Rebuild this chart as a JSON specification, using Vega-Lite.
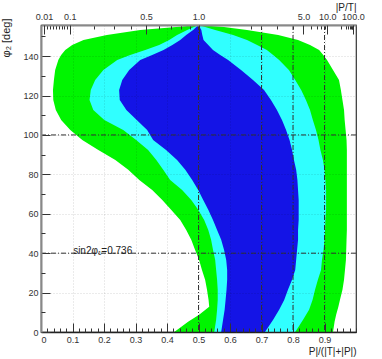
{
  "$schema": "https://vega.github.io/schema/vega-lite/v6.json",
  "width": 315,
  "height": 307,
  "autosize": {"type": "none"},
  "padding": {"left": 41, "top": 25, "right": 26, "bottom": 27},
  "background": "white",
  "config": {
    "view": {"stroke": "#333", "strokeWidth": 1.2},
    "font": "Liberation Sans",
    "axis": {"labelFont": "Liberation Sans", "titleFont": "Liberation Sans", "labelColor": "#333", "titleColor": "#222", "titleFontWeight": "normal", "tickColor": "#333"}
  },
  "datasets": {
    "green": [
      {"y": 155.8, "a": 0.5, "b": 0.5},
      {"y": 154.8, "a": 0.429, "b": 0.581},
      {"y": 153.3, "a": 0.315, "b": 0.654},
      {"y": 150.7, "a": 0.209, "b": 0.753},
      {"y": 148.2, "a": 0.135, "b": 0.816},
      {"y": 145.6, "a": 0.099, "b": 0.854},
      {"y": 143.1, "a": 0.077, "b": 0.883},
      {"y": 140.6, "a": 0.064, "b": 0.896},
      {"y": 138, "a": 0.055, "b": 0.908},
      {"y": 133, "a": 0.045, "b": 0.927},
      {"y": 127.9, "a": 0.041, "b": 0.946},
      {"y": 122.8, "a": 0.038, "b": 0.952},
      {"y": 117.8, "a": 0.039, "b": 0.957},
      {"y": 112.7, "a": 0.047, "b": 0.962},
      {"y": 107.6, "a": 0.064, "b": 0.964},
      {"y": 102.5, "a": 0.093, "b": 0.967},
      {"y": 97.5, "a": 0.131, "b": 0.970},
      {"y": 92.4, "a": 0.182, "b": 0.971},
      {"y": 87.3, "a": 0.236, "b": 0.971},
      {"y": 82.3, "a": 0.277, "b": 0.971},
      {"y": 77.2, "a": 0.312, "b": 0.971},
      {"y": 72.1, "a": 0.353, "b": 0.971},
      {"y": 67, "a": 0.385, "b": 0.971},
      {"y": 62, "a": 0.413, "b": 0.971},
      {"y": 56.9, "a": 0.442, "b": 0.971},
      {"y": 51.8, "a": 0.461, "b": 0.971},
      {"y": 46.8, "a": 0.477, "b": 0.970},
      {"y": 41.7, "a": 0.489, "b": 0.969},
      {"y": 36.6, "a": 0.502, "b": 0.968},
      {"y": 31.5, "a": 0.511, "b": 0.965},
      {"y": 26.5, "a": 0.521, "b": 0.962},
      {"y": 21.4, "a": 0.527, "b": 0.957},
      {"y": 16.3, "a": 0.532, "b": 0.949},
      {"y": 12.8, "a": 0.534, "b": 0.944},
      {"y": 8.7, "a": 0.502, "b": 0.937},
      {"y": 5.2, "a": 0.467, "b": 0.932},
      {"y": 0, "a": 0.423, "b": 0.927}
    ],
    "cyan": [
      {"y": 155.8, "a": 0.5, "b": 0.5},
      {"y": 153.3, "a": 0.464, "b": 0.553},
      {"y": 150.7, "a": 0.432, "b": 0.610},
      {"y": 148.2, "a": 0.407, "b": 0.654},
      {"y": 145.6, "a": 0.375, "b": 0.686},
      {"y": 143.1, "a": 0.331, "b": 0.717},
      {"y": 140.6, "a": 0.283, "b": 0.737},
      {"y": 138, "a": 0.242, "b": 0.756},
      {"y": 133, "a": 0.198, "b": 0.787},
      {"y": 127.9, "a": 0.172, "b": 0.807},
      {"y": 122.8, "a": 0.158, "b": 0.826},
      {"y": 117.8, "a": 0.154, "b": 0.841},
      {"y": 112.7, "a": 0.166, "b": 0.854},
      {"y": 107.6, "a": 0.201, "b": 0.863},
      {"y": 102.5, "a": 0.261, "b": 0.873},
      {"y": 97.5, "a": 0.302, "b": 0.881},
      {"y": 92.4, "a": 0.340, "b": 0.887},
      {"y": 87.3, "a": 0.366, "b": 0.895},
      {"y": 82.3, "a": 0.388, "b": 0.900},
      {"y": 77.2, "a": 0.410, "b": 0.903},
      {"y": 72.1, "a": 0.448, "b": 0.905},
      {"y": 67, "a": 0.477, "b": 0.905},
      {"y": 62, "a": 0.499, "b": 0.905},
      {"y": 56.9, "a": 0.518, "b": 0.903},
      {"y": 51.8, "a": 0.531, "b": 0.902},
      {"y": 46.8, "a": 0.540, "b": 0.900},
      {"y": 41.7, "a": 0.546, "b": 0.897},
      {"y": 36.6, "a": 0.553, "b": 0.892},
      {"y": 31.5, "a": 0.556, "b": 0.889},
      {"y": 26.5, "a": 0.559, "b": 0.879},
      {"y": 21.4, "a": 0.561, "b": 0.870},
      {"y": 16.3, "a": 0.561, "b": 0.862},
      {"y": 11.3, "a": 0.559, "b": 0.851},
      {"y": 6.2, "a": 0.556, "b": 0.832},
      {"y": 0, "a": 0.550, "b": 0.807}
    ],
    "blue": [
      {"y": 155.8, "a": 0.5, "b": 0.5},
      {"y": 153.3, "a": 0.483, "b": 0.509},
      {"y": 150.7, "a": 0.461, "b": 0.512},
      {"y": 148.2, "a": 0.442, "b": 0.516},
      {"y": 145.6, "a": 0.417, "b": 0.531},
      {"y": 143.1, "a": 0.389, "b": 0.546},
      {"y": 140.6, "a": 0.353, "b": 0.569},
      {"y": 138, "a": 0.315, "b": 0.594},
      {"y": 133, "a": 0.280, "b": 0.635},
      {"y": 127.9, "a": 0.258, "b": 0.673},
      {"y": 122.8, "a": 0.248, "b": 0.708},
      {"y": 117.8, "a": 0.250, "b": 0.730},
      {"y": 112.7, "a": 0.271, "b": 0.749},
      {"y": 107.6, "a": 0.304, "b": 0.765},
      {"y": 102.5, "a": 0.337, "b": 0.778},
      {"y": 97.5, "a": 0.356, "b": 0.789},
      {"y": 92.4, "a": 0.397, "b": 0.797},
      {"y": 87.3, "a": 0.432, "b": 0.803},
      {"y": 82.3, "a": 0.458, "b": 0.810},
      {"y": 77.2, "a": 0.480, "b": 0.814},
      {"y": 72.1, "a": 0.499, "b": 0.816},
      {"y": 67, "a": 0.515, "b": 0.818},
      {"y": 62, "a": 0.531, "b": 0.818},
      {"y": 56.9, "a": 0.546, "b": 0.818},
      {"y": 51.8, "a": 0.559, "b": 0.816},
      {"y": 46.8, "a": 0.572, "b": 0.816},
      {"y": 41.7, "a": 0.581, "b": 0.813},
      {"y": 36.6, "a": 0.588, "b": 0.810},
      {"y": 31.5, "a": 0.591, "b": 0.807},
      {"y": 26.5, "a": 0.591, "b": 0.797},
      {"y": 21.4, "a": 0.589, "b": 0.784},
      {"y": 16.3, "a": 0.586, "b": 0.772},
      {"y": 11.3, "a": 0.583, "b": 0.756},
      {"y": 6.2, "a": 0.578, "b": 0.737},
      {"y": 0, "a": 0.572, "b": 0.711}
    ],
    "vlines": [{"x": 0.5}, {"x": 0.7}, {"x": 0.8}, {"x": 0.9}],
    "hlines": [{"y": 40}, {"y": 100}],
    "label": [{"x": 0.102, "y": 41, "t": "sin2φ₁=0.736"}]
  },
  "layer": [
    {
      "data": {"name": "green"},
      "mark": {"type": "area", "orient": "horizontal", "color": "#00f500", "opacity": 1},
      "encoding": {
        "y": {"field": "y", "type": "quantitative", "scale": {"domain": [0, 155.8], "nice": false, "zero": false},
          "axis": {"orient": "left", "values": [0, 20, 40, 60, 80, 100, 120, 140], "tickSize": -9, "labelPadding": 12, "labelFontSize": 9,
            "domainColor": "#888", "domainWidth": 2, "grid": true, "gridColor": "#000", "gridOpacity": 0.16, "gridDash": [1, 2], "zindex": 1,
            "title": "φ₂ [deg]", "titleFontSize": 11, "titleAngle": -90, "titleX": -35, "titleY": -7, "titleAlign": "right", "titleBaseline": "middle", "titleAnchor": null}},
        "x": {"field": "a", "type": "quantitative", "scale": {"domain": [0, 1], "nice": false, "zero": false},
          "axis": {"orient": "bottom", "values": [0, 0.1, 0.2, 0.3, 0.4, 0.5, 0.6, 0.7, 0.8, 0.9],
            "labelExpr": "datum.value == 0 ? '0' : format(datum.value, '.1f')", "tickSize": -9, "labelPadding": 12, "labelFontSize": 9,
            "domainColor": "#222", "domainWidth": 1.5, "grid": true, "gridColor": "#000", "gridOpacity": 0.16, "gridDash": [1, 2], "zindex": 1,
            "title": "P|/(|T|+|P|)", "titleFontSize": 10, "titleX": 315, "titleY": 19, "titleAlign": "right", "titleBaseline": "middle", "titleAnchor": null}},
        "x2": {"field": "b"}
      }
    },
    {
      "data": {"name": "cyan"},
      "mark": {"type": "area", "orient": "horizontal", "color": "#30ffff", "opacity": 1},
      "encoding": {
        "y": {"field": "y", "type": "quantitative", "scale": {"domain": [0, 155.8], "nice": false, "zero": false},
          "axis": {"orient": "left", "values": [10, 30, 50, 70, 90, 110, 130, 150], "labels": false, "tickSize": -4, "domain": false, "grid": false, "title": null, "zindex": 1}},
        "x": {"field": "a", "type": "quantitative", "scale": {"domain": [0, 1], "nice": false, "zero": false},
          "axis": {"orient": "bottom", "values": [0.02, 0.04, 0.06, 0.08, 0.12, 0.14, 0.16, 0.18, 0.22, 0.24, 0.26, 0.28, 0.32, 0.34, 0.36, 0.38, 0.42, 0.44, 0.46, 0.48, 0.52, 0.54, 0.56, 0.58, 0.62, 0.64, 0.66, 0.68, 0.72, 0.74, 0.76, 0.78, 0.82, 0.84, 0.86, 0.88, 0.92, 0.94, 0.96, 0.98, 1.0],
            "labels": false, "tickSize": -4, "domain": false, "grid": false, "title": null, "zindex": 1}},
        "x2": {"field": "b"}
      }
    },
    {
      "data": {"name": "blue"},
      "mark": {"type": "area", "orient": "horizontal", "color": "#1414e6", "opacity": 1},
      "encoding": {
        "y": {"field": "y", "type": "quantitative", "scale": {"domain": [0, 155.8], "nice": false, "zero": false}, "axis": null},
        "x": {"field": "a", "type": "quantitative", "scale": {"domain": [0, 1], "nice": false, "zero": false},
          "axis": {"orient": "top", "values": [0.01961, 0.02913, 0.03846, 0.04762, 0.0566, 0.06542, 0.07407, 0.08257, 0.16667, 0.23077, 0.28571, 0.33333, 0.375, 0.41176, 0.44444, 0.47368, 0.66667, 0.75, 0.8, 0.83333, 0.85714, 0.875, 0.88889, 0.9, 0.95238, 0.96774, 0.97561, 0.98039, 0.98361, 0.98592, 0.98765, 0.98901],
            "labels": false, "tickSize": -4, "domainColor": "#888", "domainWidth": 2, "grid": false, "title": null, "zindex": 1}},
        "x2": {"field": "b"}
      }
    },
    {
      "data": {"name": "vlines"},
      "mark": {"type": "rule", "color": "#333", "strokeWidth": 1, "strokeDash": [5, 2, 1, 2]},
      "encoding": {
        "x": {"field": "x", "type": "quantitative", "scale": {"domain": [0, 1], "nice": false, "zero": false},
          "axis": {"orient": "top", "values": [0.0099, 0.09091, 0.33333, 0.5, 0.83333, 0.90909, 0.9901],
            "labelExpr": "abs(datum.value-0.0099)<1e-4 ? '0.01' : abs(datum.value-0.09091)<1e-4 ? '0.1' : abs(datum.value-0.33333)<1e-4 ? '0.5' : abs(datum.value-0.5)<1e-4 ? '1.0' : abs(datum.value-0.83333)<1e-4 ? '5.0' : abs(datum.value-0.90909)<1e-4 ? '10.0' : '100.0'",
            "tickSize": -9, "labelPadding": 13, "labelFontSize": 9, "labelOverlap": false, "labelBound": false, "labelFlush": false,
            "domain": false, "grid": false, "zindex": 1,
            "title": "|P/T|", "titleFontSize": 10, "titleX": 315, "titleY": -18, "titleAlign": "right", "titleBaseline": "middle", "titleAnchor": null}}
      }
    },
    {
      "data": {"name": "hlines"},
      "mark": {"type": "rule", "color": "#333", "strokeWidth": 1, "strokeDash": [5, 2, 1, 2]},
      "encoding": {
        "y": {"field": "y", "type": "quantitative", "scale": {"domain": [0, 155.8], "nice": false, "zero": false}, "axis": null}
      }
    },
    {
      "data": {"name": "label"},
      "mark": {"type": "text", "align": "left", "baseline": "middle", "fontSize": 10, "font": "Liberation Sans", "color": "#222"},
      "encoding": {
        "x": {"field": "x", "type": "quantitative", "scale": {"domain": [0, 1], "nice": false, "zero": false}, "axis": null},
        "y": {"field": "y", "type": "quantitative", "scale": {"domain": [0, 155.8], "nice": false, "zero": false}, "axis": null},
        "text": {"field": "t"}
      }
    }
  ],
  "resolve": {"axis": {"x": "independent", "y": "independent"}}
}
